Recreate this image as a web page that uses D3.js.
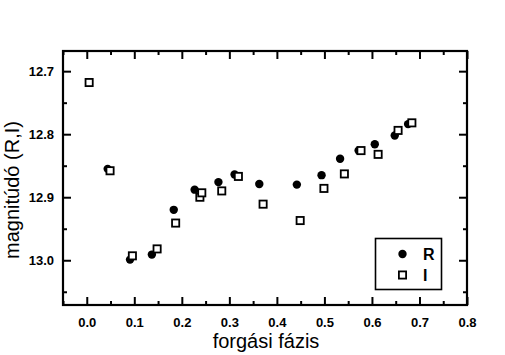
<!DOCTYPE html>
<html><head><meta charset="utf-8">
<script src="https://cdn.jsdelivr.net/npm/d3@7"></script>
<style>body{margin:0;background:#fff}svg{display:block}</style>
</head><body>
<script>
const rPhase = [0.044, 0.091, 0.137, 0.183, 0.227, 0.277, 0.311, 0.363, 0.442, 0.494, 0.533, 0.572, 0.606, 0.648, 0.676];
const rMag   = [12.855, 12.999, 12.991, 12.920, 12.888, 12.876, 12.864, 12.879, 12.880, 12.865, 12.839, 12.826, 12.816, 12.802, 12.784];
const iPhase = [0.005, 0.049, 0.096, 0.148, 0.187, 0.238, 0.242, 0.284, 0.319, 0.371, 0.449, 0.499, 0.542, 0.577, 0.613, 0.655, 0.684];
const iMag   = [12.718, 12.858, 12.993, 12.982, 12.941, 12.900, 12.893, 12.890, 12.867, 12.911, 12.937, 12.886, 12.863, 12.826, 12.832, 12.794, 12.782];
const xTicks = [0.0, 0.1, 0.2, 0.3, 0.4, 0.5, 0.6, 0.7, 0.8];
const yTicks = [12.7, 12.8, 12.9, 13.0];
const seriesNames = ["R", "I"];

const W = 505, H = 355;
const m = {l: 63, r: 38, t: 51, b: 50};
const svg = d3.select("body").append("svg").attr("width", W).attr("height", H);
const x = d3.scaleLinear().domain([-0.05, 0.8]).range([m.l, W - m.r]);
const y = d3.scaleLinear().domain([12.668, 13.071]).range([m.t, H - m.b]);

const font = "Liberation Sans, Arial, sans-serif";
const xMinor = d3.range(-0.05, 0.8001, 0.05).map(v => +v.toFixed(2));
const yMinor = d3.range(12.65, 13.0701, 0.05).map(v => +v.toFixed(2)).filter(v => v >= 12.668);
const notMajor = (arr, maj) => arr.filter(v => !maj.some(t => Math.abs(t - v) < 1e-6));

function styleAxis(g){
  g.select(".domain").remove();
  g.selectAll("line").attr("stroke", "#000").attr("stroke-width", 2);
  g.selectAll("text").attr("font-family", font).attr("font-size", 13).attr("font-weight", "bold").attr("fill", "#000");
}
const ih = H - m.b - m.t, iw = W - m.r - m.l;
// bottom
svg.append("g").attr("transform", `translate(0,${H - m.b})`)
  .call(d3.axisBottom(x).tickValues(xTicks).tickFormat(d3.format(".1f")).tickSizeInner(-8).tickSizeOuter(0).tickPadding(13))
  .call(styleAxis);
svg.append("g").attr("transform", `translate(0,${H - m.b})`)
  .call(d3.axisBottom(x).tickValues(notMajor(xMinor, xTicks)).tickFormat("").tickSizeInner(-4).tickSizeOuter(0))
  .call(styleAxis);
// top
svg.append("g").attr("transform", `translate(0,${m.t})`)
  .call(d3.axisTop(x).tickValues(xTicks).tickFormat("").tickSizeInner(-8).tickSizeOuter(0)).call(styleAxis);
svg.append("g").attr("transform", `translate(0,${m.t})`)
  .call(d3.axisTop(x).tickValues(notMajor(xMinor, xTicks)).tickFormat("").tickSizeInner(-4).tickSizeOuter(0)).call(styleAxis);
// left
svg.append("g").attr("transform", `translate(${m.l},0)`)
  .call(d3.axisLeft(y).tickValues(yTicks).tickFormat(d3.format(".1f")).tickSizeInner(-8).tickSizeOuter(0).tickPadding(9))
  .call(styleAxis);
svg.append("g").attr("transform", `translate(${m.l},0)`)
  .call(d3.axisLeft(y).tickValues(notMajor(yMinor, yTicks)).tickFormat("").tickSizeInner(-4).tickSizeOuter(0)).call(styleAxis);
// right
svg.append("g").attr("transform", `translate(${W - m.r},0)`)
  .call(d3.axisRight(y).tickValues(yTicks).tickFormat("").tickSizeInner(-8).tickSizeOuter(0)).call(styleAxis);
svg.append("g").attr("transform", `translate(${W - m.r},0)`)
  .call(d3.axisRight(y).tickValues(notMajor(yMinor, yTicks)).tickFormat("").tickSizeInner(-4).tickSizeOuter(0)).call(styleAxis);

// frame
svg.append("rect").attr("x", m.l).attr("y", m.t).attr("width", iw).attr("height", ih)
  .attr("fill", "none").attr("stroke", "#000").attr("stroke-width", 2.2);

// data
const rData = rPhase.map((p, i) => ({p, v: rMag[i]}));
const iData = iPhase.map((p, i) => ({p, v: iMag[i]}));
svg.append("g").selectAll("circle").data(rData).join("circle")
  .attr("cx", d => x(d.p)).attr("cy", d => y(d.v)).attr("r", 4.2).attr("fill", "#000");
svg.append("g").selectAll("rect").data(iData).join("rect")
  .attr("x", d => x(d.p) - 3.6).attr("y", d => y(d.v) - 3.6).attr("width", 7.2).attr("height", 7.2)
  .attr("fill", "#fff").attr("stroke", "#000").attr("stroke-width", 1.8);

// legend
const lg = svg.append("g");
lg.append("rect").attr("x", 375.5).attr("y", 238.5).attr("width", 66).attr("height", 51)
  .attr("fill", "#fff").attr("stroke", "#000").attr("stroke-width", 1.6);
lg.append("circle").attr("cx", 402.5).attr("cy", 254).attr("r", 4.2).attr("fill", "#000");
lg.append("rect").attr("x", 398.9).attr("y", 271.4).attr("width", 7.2).attr("height", 7.2)
  .attr("fill", "#fff").attr("stroke", "#000").attr("stroke-width", 1.8);
lg.selectAll("text").data(seriesNames).join("text")
  .attr("x", 423).attr("y", (d, i) => 260 + i * 21)
  .attr("font-family", font).attr("font-size", 16).attr("font-weight", "bold").attr("fill", "#000").text(d => d);

// axis titles
svg.append("text").attr("x", 266).attr("y", 348).attr("text-anchor", "middle")
  .attr("font-family", font).attr("font-size", 20).attr("fill", "#000").text("forgási fázis");
svg.append("text").attr("transform", `translate(19,190) rotate(-90)`).attr("text-anchor", "middle")
  .attr("font-family", font).attr("font-size", 20).attr("fill", "#000").text("magnitúdó (R,I)");
</script>
</body></html>
